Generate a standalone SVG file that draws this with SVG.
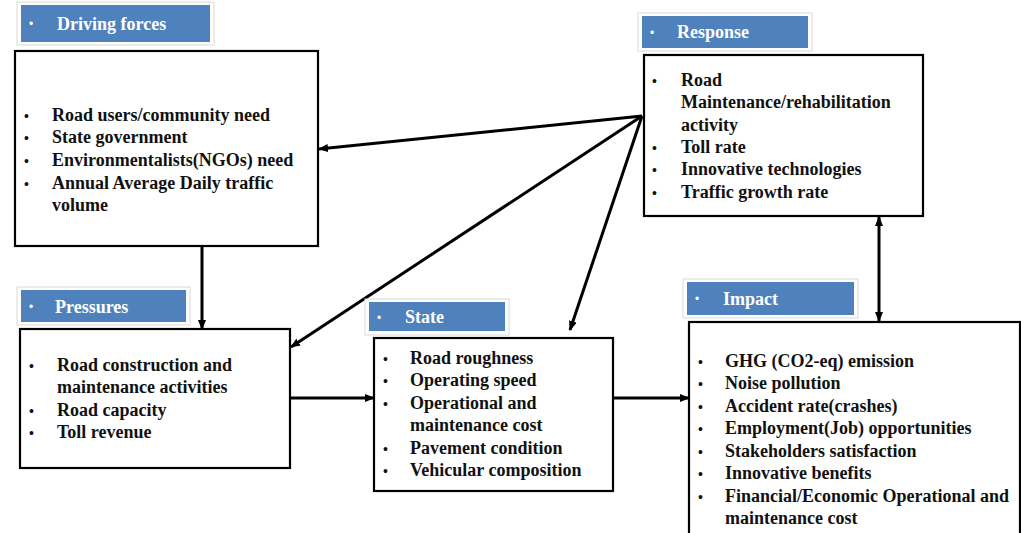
<svg xmlns="http://www.w3.org/2000/svg" width="1021" height="533" viewBox="0 0 1021 533">
<style>
.box{fill:#fff;stroke:#000;stroke-width:2.2}
.hdrf{fill:#fff;stroke:#d9d9d9;stroke-width:1}
.hdr{fill:#4f81bd}
.ht{font-family:"Liberation Serif",serif;font-weight:bold;font-size:18px;fill:#fff}
.hb{font-family:"Liberation Sans",sans-serif;font-size:12px;fill:#fff}
.t{font-family:"Liberation Serif",serif;font-weight:bold;font-size:18px;fill:#111}
.b{font-family:"Liberation Sans",sans-serif;font-size:14px;fill:#111}
.c{stroke:#000;stroke-width:3;fill:none}
</style>
<defs>
<marker id="ah" markerWidth="10" markerHeight="8" refX="9" refY="4" orient="auto" markerUnits="userSpaceOnUse">
<path d="M0,0 L10,4 L0,8 z" fill="#000"/>
</marker>
<marker id="as" markerWidth="10" markerHeight="8" refX="1" refY="4" orient="auto" markerUnits="userSpaceOnUse">
<path d="M10,0 L0,4 L10,8 z" fill="#000"/>
</marker>
</defs>
<rect width="1021" height="533" fill="#fff"/>

<g id="connectors">
<line class="c" x1="642" y1="116" x2="319" y2="149" marker-end="url(#ah)"/>
<line class="c" x1="642" y1="116" x2="291" y2="347" marker-end="url(#ah)"/>
<line class="c" x1="642" y1="116" x2="570" y2="330" marker-end="url(#ah)"/>
<line class="c" x1="202" y1="246" x2="202" y2="329" marker-end="url(#ah)"/>
<line class="c" x1="290" y1="398" x2="374" y2="398" marker-end="url(#ah)"/>
<line class="c" x1="613" y1="398" x2="689" y2="398" marker-end="url(#ah)"/>
<line class="c" x1="879" y1="217" x2="879" y2="321" marker-start="url(#as)" marker-end="url(#ah)"/>
</g>

<g id="driving-forces">
<rect class="hdrf" x="17" y="2" width="197" height="43"/>
<rect class="hdr" x="21" y="5" width="189" height="37"/>
<text class="hb" x="29" y="28">•</text>
<text class="ht" x="57" y="30">Driving forces</text>
<rect class="box" x="15" y="51" width="303" height="195"/>
<text class="b" x="24" y="121">•</text><text class="t" x="52" y="121">Road users/community need</text>
<text class="b" x="24" y="143">•</text><text class="t" x="52" y="143">State government</text>
<text class="b" x="24" y="166">•</text><text class="t" x="52" y="166">Environmentalists(NGOs) need</text>
<text class="b" x="24" y="189">•</text><text class="t" x="52" y="189">Annual Average Daily traffic</text>
<text class="t" x="52" y="211">volume</text>
</g>

<g id="response">
<rect class="hdrf" x="638" y="13" width="174" height="38"/>
<rect class="hdr" x="642" y="16" width="166" height="32"/>
<text class="hb" x="650" y="37">•</text>
<text class="ht" x="677" y="38">Response</text>
<rect class="box" x="644" y="55" width="279" height="161"/>
<text class="b" x="652" y="86">•</text><text class="t" x="681" y="86">Road</text>
<text class="t" x="681" y="108">Maintenance/rehabilitation</text>
<text class="t" x="681" y="131">activity</text>
<text class="b" x="652" y="153">•</text><text class="t" x="681" y="153">Toll rate</text>
<text class="b" x="652" y="175">•</text><text class="t" x="681" y="175">Innovative technologies</text>
<text class="b" x="652" y="198">•</text><text class="t" x="681" y="198">Traffic growth rate</text>
</g>

<g id="pressures">
<rect class="hdrf" x="17" y="287" width="173" height="38"/>
<rect class="hdr" x="21" y="290" width="165" height="32"/>
<text class="hb" x="29" y="311">•</text>
<text class="ht" x="55" y="313">Pressures</text>
<rect class="box" x="20" y="329" width="270" height="139"/>
<text class="b" x="29" y="371">•</text><text class="t" x="57" y="371">Road construction and</text>
<text class="t" x="57" y="393">maintenance activities</text>
<text class="b" x="29" y="416">•</text><text class="t" x="57" y="416">Road capacity</text>
<text class="b" x="29" y="438">•</text><text class="t" x="57" y="438">Toll revenue</text>
</g>

<g id="state">
<rect class="hdrf" x="365" y="299" width="144" height="36"/>
<rect class="hdr" x="369" y="302" width="136" height="29"/>
<text class="hb" x="377" y="322">•</text>
<text class="ht" x="405" y="323">State</text>
<rect class="box" x="374" y="338" width="239" height="153"/>
<text class="b" x="383" y="364">•</text><text class="t" x="410" y="364">Road roughness</text>
<text class="b" x="383" y="386">•</text><text class="t" x="410" y="386">Operating speed</text>
<text class="b" x="383" y="409">•</text><text class="t" x="410" y="409">Operational and</text>
<text class="t" x="410" y="431">maintenance cost</text>
<text class="b" x="383" y="454">•</text><text class="t" x="410" y="454">Pavement condition</text>
<text class="b" x="383" y="476">•</text><text class="t" x="410" y="476">Vehicular composition</text>
</g>

<g id="impact">
<rect class="hdrf" x="683" y="279" width="175" height="39"/>
<rect class="hdr" x="687" y="282" width="167" height="33"/>
<text class="hb" x="695" y="303">•</text>
<text class="ht" x="723" y="305">Impact</text>
<rect class="box" x="689" y="322" width="331" height="220"/>
<text class="b" x="698" y="367">•</text><text class="t" x="725" y="367">GHG (CO2-eq) emission</text>
<text class="b" x="698" y="389">•</text><text class="t" x="725" y="389">Noise pollution</text>
<text class="b" x="698" y="412">•</text><text class="t" x="725" y="412">Accident rate(crashes)</text>
<text class="b" x="698" y="434">•</text><text class="t" x="725" y="434">Employment(Job)  opportunities</text>
<text class="b" x="698" y="457">•</text><text class="t" x="725" y="457">Stakeholders satisfaction</text>
<text class="b" x="698" y="479">•</text><text class="t" x="725" y="479">Innovative benefits</text>
<text class="b" x="698" y="502">•</text><text class="t" x="725" y="502">Financial/Economic Operational and</text>
<text class="t" x="725" y="524">maintenance cost</text>
</g>
</svg>
